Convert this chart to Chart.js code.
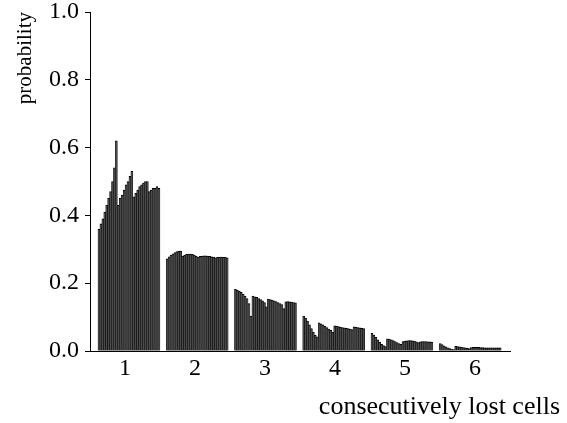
<!DOCTYPE html>
<html lang="en">
<head>
    <meta charset="UTF-8">
    <title>consecutively lost cells</title>
    <style>
        html, body { margin: 0; padding: 0; background: #fff; }
        #box { width: 567px; height: 423px; }
    </style>
</head>
<body>
    <div id="box"><canvas id="myChart"></canvas></div>

    <script src="https://cdn.jsdelivr.net/npm/chart.js"></script>
    <script>
        // x categories and tick labels
        var categories = ['1', '2', '3', '4', '5', '6'];
        var yTicks = [0, 0.2, 0.4, 0.6, 0.8, 1.0];

        // probability values, 32 bars per category
        var lost1 = [0.36, 0.375, 0.39, 0.41, 0.43, 0.45, 0.47, 0.50, 0.54, 0.62,
            0.43, 0.45, 0.46, 0.475, 0.49, 0.50, 0.515, 0.53,
            0.455, 0.465, 0.475, 0.485, 0.49, 0.495, 0.50, 0.50,
            0.47, 0.475, 0.48, 0.48, 0.485, 0.48];
        var lost2 = [0.272, 0.278, 0.283, 0.287, 0.29, 0.293, 0.295, 0.295,
            0.28, 0.283, 0.285, 0.286, 0.286, 0.285, 0.283, 0.28,
            0.277, 0.279, 0.28, 0.281, 0.281, 0.28, 0.279, 0.278, 0.277,
            0.275, 0.276, 0.277, 0.277, 0.276, 0.276, 0.275];
        var lost3 = [0.182, 0.18, 0.177, 0.173, 0.168, 0.162, 0.155, 0.14, 0.103,
            0.162, 0.16, 0.158, 0.155, 0.152, 0.148, 0.143, 0.13,
            0.153, 0.152, 0.15, 0.148, 0.146, 0.143, 0.14, 0.137, 0.125,
            0.145, 0.146, 0.145, 0.144, 0.143, 0.142];
        var lost4 = [0.103, 0.097, 0.088, 0.077, 0.066, 0.056, 0.047, 0.042,
            0.083, 0.08, 0.077, 0.073, 0.069, 0.065, 0.061, 0.056,
            0.074, 0.073, 0.072, 0.07, 0.069, 0.068, 0.067, 0.066, 0.065, 0.063,
            0.071, 0.07, 0.069, 0.068, 0.067, 0.066];
        var lost5 = [0.052, 0.047, 0.04, 0.033, 0.026, 0.02, 0.016, 0.013,
            0.036, 0.035, 0.033, 0.031, 0.028, 0.025, 0.022, 0.02,
            0.028, 0.029, 0.03, 0.031, 0.031, 0.03, 0.029, 0.027, 0.025,
            0.027, 0.028, 0.028, 0.028, 0.027, 0.027, 0.026];
        var lost6 = [0.022, 0.019, 0.015, 0.012, 0.009, 0.007, 0.005, 0.004,
            0.014, 0.013, 0.012, 0.011, 0.01, 0.009, 0.008, 0.007,
            0.01, 0.011, 0.011, 0.011, 0.011, 0.01, 0.01, 0.009, 0.009,
            0.009, 0.009, 0.009, 0.009, 0.009, 0.009, 0.009];
        var series = [lost1, lost2, lost3, lost4, lost5, lost6];

        // where each block of bars sits on the x axis (axis units)
        var groupStart = 0.614, groupStep = 0.975, groupWidth = 0.885;

        var points = [];
        series.forEach(function (vals, g) {
            var step = groupWidth / vals.length;
            vals.forEach(function (v, j) {
                points.push({ x: groupStart + g * groupStep + (j + 0.5) * step, y: v });
            });
        });

        var serif = "'Liberation Serif', 'DejaVu Serif', serif";

        // axis titles sit at the top / far right like in the print
        var titles = {
            id: 'titles',
            afterDraw: function (chart) {
                var c = chart.ctx;
                c.save();
                c.fillStyle = '#000';
                c.textBaseline = 'alphabetic';
                c.textAlign = 'right';
                c.font = '26px ' + serif;
                c.fillText('consecutively lost cells', 560, 414);
                c.font = '21px ' + serif;
                c.translate(31, 12);
                c.rotate(-Math.PI / 2);
                c.fillText('probability', 0, 0);
                c.restore();
            }
        };

        new Chart(document.getElementById('myChart'), {
            type: 'bar',
            data: {
                datasets: [{
                    data: points,
                    backgroundColor: '#4a4a4a',
                    borderColor: '#000',
                    borderWidth: { top: 1, left: 0.5, right: 0.5, bottom: 0 },
                    borderSkipped: 'bottom',
                    barPercentage: 1,
                    categoryPercentage: 1
                }]
            },
            options: {
                responsive: true,
                maintainAspectRatio: false,
                animation: false,
                layout: { padding: { top: 12, right: 57, left: 0, bottom: 0 } },
                plugins: { legend: { display: false }, tooltip: { enabled: false } },
                scales: {
                    x: {
                        type: 'linear',
                        min: 0.5,
                        max: 6.5,
                        offset: false,
                        afterBuildTicks: function (scale) {
                            scale.ticks = categories.map(function (c, i) { return { value: i + 1 }; });
                        },
                        afterFit: function (scale) { scale.height = 72; },
                        ticks: {
                            autoSkip: false,
                            maxRotation: 0,
                            padding: 3,
                            color: '#000',
                            font: { family: serif, size: 24 },
                            callback: function (v) { return categories[Math.round(v) - 1]; }
                        },
                        grid: { display: false, drawTicks: false, tickLength: 0 },
                        border: { display: true, color: '#000', width: 1 }
                    },
                    y: {
                        min: 0,
                        max: 1,
                        afterBuildTicks: function (scale) {
                            scale.ticks = yTicks.map(function (v) { return { value: v }; });
                        },
                        afterFit: function (scale) {
                            scale.width = 90;
                            scale.paddingTop = 0;
                            scale.paddingBottom = 0;
                        },
                        ticks: {
                            padding: 6,
                            color: '#000',
                            font: { family: serif, size: 24 },
                            callback: function (v) { return v.toFixed(1); }
                        },
                        grid: { drawOnChartArea: false, drawTicks: true, tickLength: 5, color: '#000' },
                        border: { display: true, color: '#000', width: 1 }
                    }
                }
            },
            plugins: [titles]
        });
    </script>
</body>
</html>
